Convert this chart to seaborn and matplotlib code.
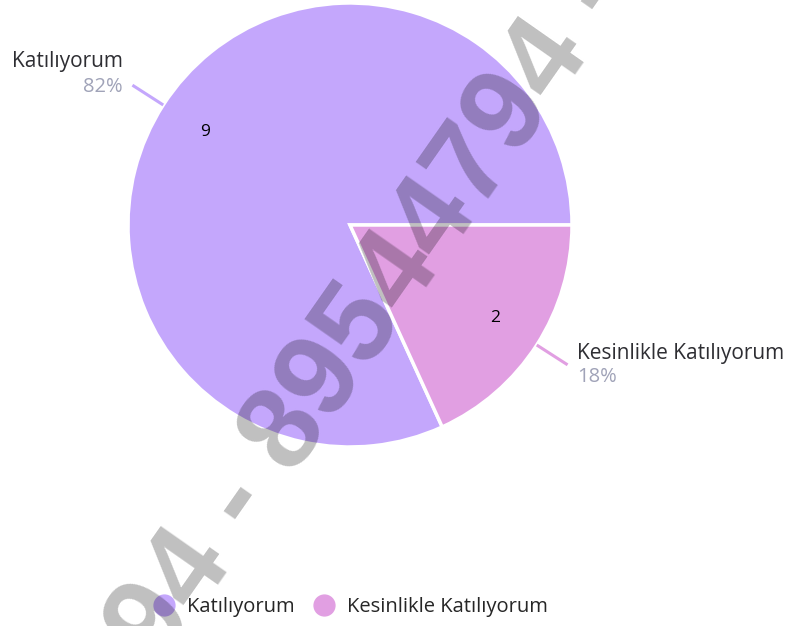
import numpy as np
import matplotlib
matplotlib.use("Agg")
import matplotlib.pyplot as plt
import seaborn as sns
from matplotlib.lines import Line2D

# === Data ===
labels = ["Katılıyorum", "Kesinlikle Katılıyorum"]
counts = [9, 2]
colors = ["#c4a7fc", "#e19fe2"]
watermark = "94 - 89544794 - "

sns.set_theme(style="white")
plt.rcParams["font.family"] = ["Open Sans", "DejaVu Sans"]

fig = plt.figure(figsize=(7.93, 6.26), dpi=100)
fig.patch.set_facecolor("white")

# pie axes: center (350, 225) px, radius 222 px
W, H = 793, 626
cx, cy, r = 350, 225, 222
ax = fig.add_axes([(cx - r) / W, (H - cy - r) / H, 2 * r / W, 2 * r / H])

wedges, texts = ax.pie(
    counts,
    colors=colors,
    startangle=0,
    counterclock=True,
    labels=[str(c) for c in counts],
    labeldistance=0.775,
    wedgeprops=dict(edgecolor="white", linewidth=2.5),
    textprops=dict(fontsize=12.5, color="black", ha="center", va="center"),
)
ax.set_xlim(-1, 1)
ax.set_ylim(-1, 1)
ax.set_aspect("equal")
ax.axis("off")

# outer labels with leader lines
total = sum(counts)
name_dy = [17, 8]     # points above line end
pct_dy = [-1, -9]
for i, w in enumerate(wedges):
    ang = np.deg2rad((w.theta1 + w.theta2) / 2)
    x0, y0 = np.cos(ang), np.sin(ang)
    x1, y1 = 1.165 * x0, 1.165 * y0
    ax.plot([1.0 * x0, x1], [1.0 * y0, y1], color=colors[i], lw=2.2,
            solid_capstyle="butt", clip_on=False)
    side = 1 if x0 > 0 else -1
    ha = "left" if side > 0 else "right"
    pct = f"{round(100 * counts[i] / total)}%"
    ax.annotate(labels[i], xy=(x1, y1), xytext=(side * 7, name_dy[i]),
                textcoords="offset points", ha=ha, va="center",
                fontsize=15, color="#2e2e33", annotation_clip=False)
    ax.annotate(pct, xy=(x1, y1), xytext=(side * 7, pct_dy[i]),
                textcoords="offset points", ha=ha, va="center",
                fontsize=14.5, color="#a0a3b8", annotation_clip=False)

# legend
handles = [Line2D([], [], marker="o", linestyle="none", markersize=15,
                  markerfacecolor=c, markeredgecolor=c) for c in colors]
fig.legend(handles, labels, loc="center", bbox_to_anchor=(350 / W, 1 - 607 / H),
           ncol=2, frameon=False, fontsize=14.5, handletextpad=0.6,
           columnspacing=0.9, handlelength=1.1)

# watermark
fig.text(159 / W, 1 - 668 / H, watermark, rotation=55, rotation_mode="anchor",
         ha="left", va="baseline", fontsize=84, fontweight="bold",
         family="Liberation Sans", color="black", alpha=0.25,
         zorder=10)

fig.savefig("out.png", dpi=100, facecolor="white")
